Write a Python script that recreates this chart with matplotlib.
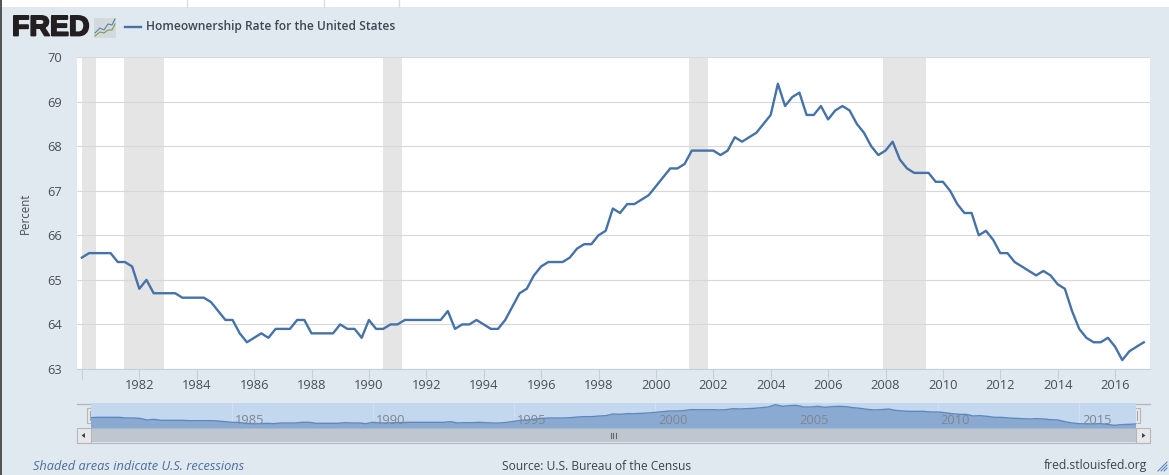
import numpy as np
import matplotlib
matplotlib.use("Agg")
import matplotlib.pyplot as plt
import matplotlib.patheffects as pe
from matplotlib.patches import Rectangle

# quarterly homeownership rate, 1980 Q1 to 2017 Q1
start_year = 1980
rate = [
    65.5, 65.6, 65.6, 65.6,
    65.6, 65.4, 65.4, 65.3,
    64.8, 65.0, 64.7, 64.7,
    64.7, 64.7, 64.6, 64.6,
    64.6, 64.6, 64.5, 64.3,
    64.1, 64.1, 63.8, 63.6,
    63.7, 63.8, 63.7, 63.9,
    63.9, 63.9, 64.1, 64.1,
    63.8, 63.8, 63.8, 63.8,
    64.0, 63.9, 63.9, 63.7,
    64.1, 63.9, 63.9, 64.0,
    64.0, 64.1, 64.1, 64.1,
    64.1, 64.1, 64.1, 64.3,
    63.9, 64.0, 64.0, 64.1,
    64.0, 63.9, 63.9, 64.1,
    64.4, 64.7, 64.8, 65.1,
    65.3, 65.4, 65.4, 65.4,
    65.5, 65.7, 65.8, 65.8,
    66.0, 66.1, 66.6, 66.5,
    66.7, 66.7, 66.8, 66.9,
    67.1, 67.3, 67.5, 67.5,
    67.6, 67.9, 67.9, 67.9,
    67.9, 67.8, 67.9, 68.2,
    68.1, 68.2, 68.3, 68.5,
    68.7, 69.4, 68.9, 69.1,
    69.2, 68.7, 68.7, 68.9,
    68.6, 68.8, 68.9, 68.8,
    68.5, 68.3, 68.0, 67.8,
    67.9, 68.1, 67.7, 67.5,
    67.4, 67.4, 67.4, 67.2,
    67.2, 67.0, 66.7, 66.5,
    66.5, 66.0, 66.1, 65.9,
    65.6, 65.6, 65.4, 65.3,
    65.2, 65.1, 65.2, 65.1,
    64.9, 64.8, 64.3, 63.9,
    63.7, 63.6, 63.6, 63.7,
    63.5, 63.2, 63.4, 63.5,
    63.6,
]
recessions = [(1980.0, 1980.5), (1981.47, 1982.85), (1990.5, 1991.16),
              (2001.16, 2001.83), (2007.93, 2009.42)]
year_ticks = list(range(1982, 2017, 2))
percent_ticks = list(range(63, 71))
nav_years = [1985, 1990, 1995, 2000, 2005, 2010, 2015]

BG = "#e1e9f0"
LINE = "#4572a7"
W, H = 1169, 475

plt.rcParams["font.family"] = ["Open Sans", "DejaVu Sans"]
years = start_year + np.arange(len(rate)) / 4


def px_axes(fig, left, top, right, bottom):
    # axes placed by pixel edges, y counted from the top of the image
    return fig.add_axes([left / W, 1 - bottom / H, (right - left) / W, (bottom - top) / H])


fig = plt.figure(figsize=(W / 100, H / 100), dpi=100, facecolor=BG)

# page furniture in pixel coordinates
bg = fig.add_axes([0, 0, 1, 1])
bg.set_xlim(0, W)
bg.set_ylim(H, 0)
bg.axis("off")
bg.add_patch(Rectangle((0, 0), W, 7, color="white", lw=0))
bg.add_patch(Rectangle((0, 0), 1.6, H, color="#555555", lw=0))
for x in [186.5, 323.5, 398.5]:
    bg.plot([x, x], [0, 7], color="#d5dde5", lw=1)

# logo
logo = bg.text(12, 28.5, "FRED", fontsize=20.5, fontweight="bold", family="Liberation Sans",
               color="#231f20", va="center", ha="left")
logo.set_path_effects([pe.withStroke(linewidth=1.3, foreground="#231f20")])
bg.add_patch(Rectangle((94, 18), 22, 20, color="#d4d9db", lw=0))
bg.plot([95, 100, 104, 108, 112, 115], [33, 28, 30, 24, 25, 19], color="#5b82ad", lw=0.8)
bg.plot([95, 100, 104, 108, 112, 115], [36, 32, 33, 30, 30, 24], color="#7d9c55", lw=0.8)

# legend
bg.plot([125, 141], [27, 27], color=LINE, lw=1.7)
bg.text(146, 26.5, "Homeownership Rate for the United States", fontsize=8.63,
        fontweight="semibold", color="#3e4654", va="center", ha="left")

# main chart
ax = px_axes(fig, 77, 57, 1150, 369)
ax.set_xlim(start_year - 4.9 / 28.7, start_year + (1150 - 81.9) / 28.7)
ax.set_ylim(63, 70)
ax.set_facecolor("white")
for a, b in recessions:
    ax.axvspan(a, b, color="#e5e5e5", lw=0, zorder=1)
ax.plot(years, rate, color=LINE, lw=1.7, zorder=3, solid_joinstyle="round")
ax.set_yticks(percent_ticks)
ax.set_xticks([start_year] + year_ticks)
ax.set_xticklabels([""] + [str(y) for y in year_ticks])
ax.grid(axis="y", color="#d8d8d8", lw=0.8, zorder=2)
ax.tick_params(axis="x", length=7, width=0.8, color="#c0d0e0", labelsize=9.3,
               labelcolor="#484e59", pad=0.5)
ax.tick_params(axis="y", length=0, labelsize=9.3, labelcolor="#484e59", pad=10.8)
for name in ["top", "left", "right"]:
    ax.spines[name].set_visible(False)
ax.spines["bottom"].set_color("#c0d0e0")
ax.set_ylabel("Percent", fontsize=8.3, color="#484e59")
ax.yaxis.set_label_coords(-45 / 1073, 0.5)

# navigator
nav = px_axes(fig, 90.5, 403, 1135.5, 428)
nav.set_xlim(start_year, start_year + (len(rate) - 1) / 4)
nav.set_ylim(62.4, 69.9)
nav.set_facecolor("#c3d8ee")
nav.fill_between(years, rate, 62.4, color="#8aaad2", lw=0, zorder=2)
nav.plot(years, rate, color="#5f88bb", lw=1, zorder=3)
nav.set_xticks(nav_years)
nav.set_xticklabels([])
nav.grid(axis="x", color="#d3e1f1", lw=0.6, zorder=1)
nav.tick_params(length=0)
nav.set_yticks([])
for name in ["top", "left", "right", "bottom"]:
    nav.spines[name].set_visible(False)
for y in nav_years:
    nav.annotate(str(y), (y, 0), xycoords=("data", "axes fraction"), xytext=(12.7, 0.4),
                 textcoords="offset points", fontsize=9.3, color="#7f8690", ha="center",
                 va="bottom", zorder=5)

# navigator frame, scrollbar, handles
bg.plot([77, 1150], [403.5, 403.5], color="#b4b7bb", lw=1)
bg.add_patch(Rectangle((90.5, 428), 1045, 14, color="#bfc6cf", lw=0))
bg.plot([77, 1150], [442.5, 442.5], color="#b4b7bb", lw=0.8)
for x0, glyph in [(76.5, "<"), (1135.5, ">")]:
    bg.add_patch(Rectangle((x0, 428), 14, 14.5, facecolor="#e8e8ea", edgecolor="#b4b7bb", lw=0.8))
    if glyph == "<":
        bg.fill([81.5, 85, 85], [435.5, 433, 438], color="#444444", lw=0)
    else:
        bg.fill([1145.5, 1142, 1142], [435.5, 433, 438], color="#444444", lw=0)
for x in [90.5, 1135.5]:
    bg.add_patch(Rectangle((x - 3.5, 408), 7.5, 15, facecolor="#e6e6e6", edgecolor="#b4b7bb", lw=0.8))
    bg.plot([x - 1, x - 1], [411, 420], color="#9a9a9a", lw=0.6)
    bg.plot([x + 1, x + 1], [411, 420], color="#9a9a9a", lw=0.6)
for x in [610.5, 613, 615.5]:
    bg.plot([x, x], [432.5, 438], color="#666666", lw=0.8)

# footer
bg.text(33, 466, "Shaded areas indicate U.S. recessions", fontsize=9.2, style="italic",
        color="#4a6d9c", va="center", ha="left")
bg.text(502, 466, "Source: U.S. Bureau of the Census", fontsize=8.65, color="#3c424c",
        va="center", ha="left")
bg.text(1147, 466, "fred.stlouisfed.org", fontsize=8.7, color="#3c424c",
        va="center", ha="right")
for d in [3, 6, 9]:
    bg.plot([1167 - d, 1167], [471, 471 - d], color="#4a7cc0", lw=0.7)

fig.savefig("out.png", dpi=100, facecolor=BG)
